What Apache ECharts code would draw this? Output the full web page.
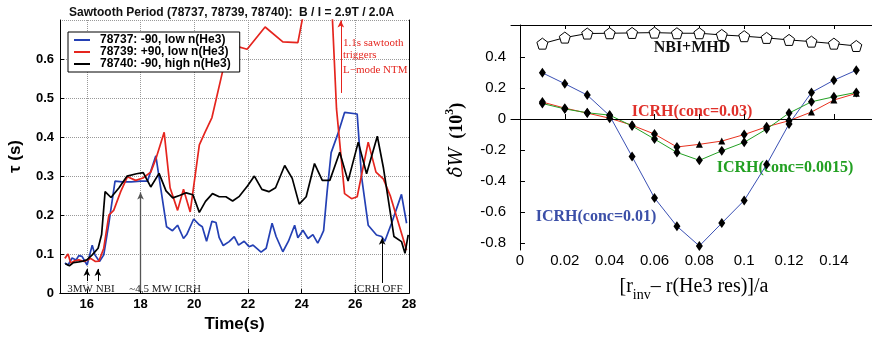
<!DOCTYPE html>
<html>
<head>
<meta charset="utf-8">
<script src="https://cdn.jsdelivr.net/npm/echarts@6/dist/echarts.min.js"></script>
<style>
html,body{margin:0;padding:0;background:#fff}
#chart{width:872px;height:338px}
</style>
</head>
<body>
<div id="chart"></div>
<script>
// left panel: sawtooth period vs time, [t (s), tau (s)]
var shot78737 = [[15.18,0.077],[15.3,0.072],[15.45,0.09],[15.6,0.085],[15.7,0.096],[15.82,0.094],[16.01,0.072],[16.2,0.123],[16.3,0.098],[16.47,0.081],[16.63,0.098],[16.82,0.179],[17.05,0.287],[17.32,0.285],[17.65,0.285],[18.0,0.287],[18.26,0.287],[18.57,0.352],[18.97,0.17],[19.19,0.16],[19.38,0.174],[19.6,0.14],[19.72,0.15],[19.98,0.19],[20.19,0.175],[20.3,0.17],[20.46,0.133],[20.66,0.184],[20.81,0.181],[20.93,0.142],[21.08,0.122],[21.3,0.132],[21.49,0.145],[21.65,0.123],[21.86,0.133],[22.04,0.119],[22.19,0.123],[22.49,0.105],[22.68,0.115],[22.9,0.179],[23.05,0.145],[23.3,0.106],[23.51,0.133],[23.74,0.174],[23.86,0.142],[24.05,0.161],[24.24,0.14],[24.42,0.15],[24.6,0.128],[24.72,0.145],[24.82,0.16],[24.95,0.26],[25.1,0.36],[25.36,0.41],[25.6,0.463],[26.07,0.459],[26.23,0.30],[26.48,0.174],[26.79,0.149],[26.98,0.145],[27.1,0.133],[27.35,0.179],[27.72,0.253],[27.91,0.179]];
var shot78739 = [[15.18,0.089],[15.3,0.10],[15.4,0.077],[15.55,0.083],[15.7,0.085],[15.9,0.081],[16.14,0.089],[16.32,0.081],[16.45,0.082],[16.63,0.115],[16.82,0.2],[17.0,0.212],[17.26,0.26],[17.51,0.298],[17.82,0.289],[18.09,0.295],[18.38,0.31],[18.57,0.344],[18.88,0.412],[19.1,0.27],[19.38,0.212],[19.6,0.266],[19.85,0.208],[20.19,0.38],[20.4,0.412],[20.66,0.45],[21.12,0.587],[21.31,0.646],[21.56,0.633],[21.97,0.625],[22.64,0.682],[23.3,0.644],[23.86,0.642],[24.3,0.8],[25.05,0.85],[25.3,0.472],[25.6,0.255],[25.86,0.242],[26.07,0.247],[26.48,0.387],[26.77,0.31],[27.04,0.293],[27.3,0.25],[27.91,0.11]];
var shot78740 = [[15.2,0.075],[15.35,0.07],[15.5,0.078],[15.7,0.08],[15.85,0.082],[16.0,0.085],[16.2,0.098],[16.42,0.115],[16.55,0.15],[16.68,0.26],[16.9,0.245],[17.2,0.27],[17.5,0.30],[17.85,0.306],[18.1,0.309],[18.38,0.272],[18.69,0.307],[18.95,0.262],[19.2,0.244],[19.45,0.25],[19.7,0.257],[19.95,0.252],[20.19,0.207],[20.42,0.235],[20.68,0.255],[20.93,0.247],[21.18,0.247],[21.43,0.236],[21.68,0.248],[21.99,0.275],[22.24,0.30],[22.52,0.266],[22.78,0.26],[23.03,0.27],[23.37,0.327],[23.65,0.294],[23.91,0.228],[24.17,0.247],[24.48,0.332],[24.77,0.289],[25.05,0.289],[25.42,0.361],[25.73,0.287],[26.11,0.387],[26.42,0.306],[26.82,0.402],[27.05,0.32],[27.44,0.145],[27.72,0.132],[27.85,0.102],[27.97,0.149]];
var shotNames = ['78737: -90, low n(He3)', '78739: +90, low n(He3)', '78740: -90, high n(He3)'];
var timeTicks = [16, 18, 20, 22, 24, 26, 28];

// right panel: delta W vs [r_inv - r(He3 res)]/a
var rValues = [0.01,0.02,0.03,0.04,0.05,0.06,0.07,0.08,0.09,0.10,0.11,0.12,0.13,0.14,0.15];
var nbiMhd = [0.485,0.524,0.55,0.552,0.554,0.556,0.552,0.552,0.541,0.533,0.522,0.509,0.498,0.485,0.47];
var icrh001 = [0.297,0.227,0.154,0.021,-0.242,-0.508,-0.69,-0.817,-0.67,-0.524,-0.293,-0.032,0.171,0.25,0.314];
var icrh003 = [0.109,0.07,0.038,0.005,-0.04,-0.097,-0.18,-0.163,-0.142,-0.10,-0.05,-0.011,0.045,0.122,0.165];
var icrh00015 = [0.10,0.065,0.04,0.025,-0.045,-0.129,-0.215,-0.266,-0.205,-0.15,-0.065,0.038,0.111,0.143,0.171];
var rTicks = [0, 0.02, 0.04, 0.06, 0.08, 0.1, 0.12, 0.14];
var dwTicks = [-0.8, -0.6, -0.4, -0.2, 0, 0.2, 0.4];

var SANS = 'Liberation Sans, Arial, sans-serif';
var SERIF = 'Liberation Serif, Times New Roman, serif';
var BLUE = '#2440b4', RED = '#e5251e';

function pairs(xs, ys) {
  return xs.map(function (x, i) { return [x, ys[i]]; });
}
// the 0.03 curve shows triangles only where it separates from the others
function redSymbol(value, params) {
  var i = params.dataIndex;
  return (i === 7 || i === 8 || i >= 12) ? 'triangle' : 'diamond';
}
function redSize(value, params) {
  var i = params.dataIndex;
  return (i === 7 || i === 8 || i >= 12) ? 7 : [7, 10];
}

var chart = echarts.init(document.getElementById('chart'));

var frameAxis = {
  axisLine: {show: true, lineStyle: {color: '#000', width: 1}},
  axisLabel: {show: false},
  splitLine: {show: false}
};

var option = {
  animation: false,
  backgroundColor: '#fff',
  title: {
    text: 'Sawtooth Period (78737, 78739, 78740):  B / I = 2.9T / 2.0A',
    left: 64, top: 2,
    textStyle: {fontFamily: SANS, fontSize: 12, fontWeight: 'bold', color: '#111'}
  },
  legend: {
    data: shotNames,
    orient: 'vertical',
    left: 68, top: 32,
    backgroundColor: '#fff',
    borderColor: '#000', borderWidth: 1,
    padding: [2, 9, 2, 6],
    itemWidth: 16, itemHeight: 2, itemGap: 0,
    icon: 'rect',
    textStyle: {fontFamily: SANS, fontSize: 12, fontWeight: 'bold', color: '#000', lineHeight: 11, padding: [0, 0, 0, 5]}
  },
  grid: [
    {left: 60, top: 20, right: 463, bottom: 43},
    {left: 511, top: 25, right: -9, bottom: 88}
  ],
  xAxis: [
    {
      gridIndex: 0, type: 'value', min: 15, max: 28, position: 'bottom',
      axisLine: {show: true, lineStyle: {color: '#000', width: 1}},
      axisTick: {show: true, inside: true, length: 4, customValues: timeTicks, lineStyle: {color: '#000'}},
      axisLabel: {customValues: timeTicks, fontFamily: SANS, fontSize: 13, fontWeight: 'bold', color: '#000', margin: 5},
      splitLine: {show: true, lineStyle: {type: 'dotted', color: '#999', width: 1}},
      name: 'Time(s)', nameLocation: 'middle', nameGap: 18,
      nameTextStyle: {fontFamily: SANS, fontSize: 17, fontWeight: 'bold', color: '#000'}
    },
    Object.assign({gridIndex: 0, type: 'value', min: 15, max: 28, position: 'top', axisTick: {show: false}}, frameAxis),
    {
      gridIndex: 1, type: 'value', min: -0.004, max: 0.157, position: 'bottom',
      axisLine: {show: true, lineStyle: {color: '#000', width: 1}},
      axisTick: {show: true, inside: true, length: 5, customValues: rTicks, lineStyle: {color: '#000'}},
      axisLabel: {customValues: rTicks, fontFamily: SANS, fontSize: 15, color: '#000', margin: 3},
      splitLine: {show: false}
    },
    Object.assign({gridIndex: 1, type: 'value', min: -0.004, max: 0.157, position: 'top',
      axisTick: {show: true, inside: true, length: 4, customValues: rTicks, lineStyle: {color: '#000'}}}, frameAxis)
  ],
  yAxis: [
    {
      gridIndex: 0, type: 'value', min: 0, max: 0.7, interval: 0.1,
      axisLine: {show: true, lineStyle: {color: '#000', width: 1}},
      axisTick: {show: true, inside: true, length: 4, lineStyle: {color: '#000'}},
      axisLabel: {fontFamily: SANS, fontSize: 13, fontWeight: 'bold', color: '#000', margin: 6, showMaxLabel: false},
      splitLine: {show: true, lineStyle: {type: 'dotted', color: '#999', width: 1}},
      name: 'τ (s)', nameLocation: 'middle', nameGap: 36, nameRotate: 90,
      nameTextStyle: {fontFamily: SANS, fontSize: 17, fontWeight: 'bold', color: '#000'}
    },
    Object.assign({gridIndex: 0, type: 'value', min: 0, max: 0.7, position: 'right', axisTick: {show: false}}, frameAxis),
    {
      gridIndex: 1, type: 'value', min: -0.843, max: 0.605,
      axisLine: {show: true, lineStyle: {color: '#000', width: 1}},
      axisTick: {show: true, inside: true, length: 5, customValues: dwTicks, lineStyle: {color: '#000'}},
      axisLabel: {customValues: dwTicks, fontFamily: SANS, fontSize: 15, color: '#000', margin: 5},
      splitLine: {show: false}
    }
  ],
  series: [
    {name: shotNames[0], type: 'line', xAxisIndex: 0, yAxisIndex: 0, data: shot78737,
      showSymbol: false, color: BLUE, lineStyle: {color: BLUE, width: 1.7}},
    {name: shotNames[1], type: 'line', xAxisIndex: 0, yAxisIndex: 0, data: shot78739,
      showSymbol: false, color: RED, lineStyle: {color: RED, width: 1.7}, clip: true},
    {name: shotNames[2], type: 'line', xAxisIndex: 0, yAxisIndex: 0, data: shot78740,
      showSymbol: false, color: '#000', lineStyle: {color: '#000', width: 1.7},
      markLine: {
        silent: true, symbol: ['none', 'arrow'], symbolSize: [5, 7], label: {show: false},
        lineStyle: {color: '#000', width: 1, type: 'solid'},
        data: [
          [{coord: [16, 0.031]}, {coord: [16, 0.062]}],
          [{coord: [16.41, 0.031]}, {coord: [16.41, 0.062]}],
          [{coord: [18, 0.006], lineStyle: {color: '#555', width: 1.3}}, {coord: [18, 0.258]}],
          [{coord: [27, 0.026]}, {coord: [27, 0.142]}],
          [{coord: [25.46, 0.513], lineStyle: {color: RED, width: 1}}, {coord: [25.46, 0.699]}]
        ]
      }},
    {name: 'NBI+MHD', type: 'line', xAxisIndex: 2, yAxisIndex: 2, data: pairs(rValues, nbiMhd),
      symbol: 'path://M50,0 L97.6,34.5 L79.4,90.5 L20.6,90.5 L2.4,34.5 Z', symbolSize: 11,
      itemStyle: {color: '#fff', borderColor: '#000', borderWidth: 1},
      lineStyle: {color: '#000', width: 1}, z: 3,
      markLine: {silent: true, symbol: 'none', label: {show: false},
        lineStyle: {color: '#000', width: 1, type: 'solid'}, data: [{yAxis: 0}]}},
    {name: 'ICRH(conc=0.01)', type: 'line', xAxisIndex: 2, yAxisIndex: 2, data: pairs(rValues, icrh001),
      symbol: 'diamond', symbolSize: [7, 10], itemStyle: {color: '#000'},
      lineStyle: {color: '#3a50b4', width: 1}},
    {name: 'ICRH(conc=0.03)', type: 'line', xAxisIndex: 2, yAxisIndex: 2, data: pairs(rValues, icrh003),
      symbol: redSymbol, symbolSize: redSize, itemStyle: {color: '#000'},
      lineStyle: {color: '#e8321f', width: 1}},
    {name: 'ICRH(conc=0.0015)', type: 'line', xAxisIndex: 2, yAxisIndex: 2, data: pairs(rValues, icrh00015),
      symbol: 'diamond', symbolSize: [7, 10], itemStyle: {color: '#000'},
      lineStyle: {color: '#23a023', width: 1}}
  ],
  graphic: [
    {type: 'text', x: 91, y: 289, style: {text: '3MW NBI', font: '11px ' + SERIF, fill: '#222', textAlign: 'center', textVerticalAlign: 'middle', align: 'center', verticalAlign: 'middle'}},
    {type: 'text', x: 165, y: 289, style: {text: '~4,5 MW ICRH', font: '11px ' + SERIF, fill: '#222', textAlign: 'center', textVerticalAlign: 'middle', align: 'center', verticalAlign: 'middle'}},
    {type: 'text', x: 378, y: 289, style: {text: 'ICRH OFF', font: '11px ' + SERIF, fill: '#222', textAlign: 'center', textVerticalAlign: 'middle', align: 'center', verticalAlign: 'middle'}},
    {type: 'text', x: 343, y: 43, style: {text: '1.1s sawtooth', font: '11px ' + SERIF, fill: RED, textVerticalAlign: 'middle', verticalAlign: 'middle'}},
    {type: 'text', x: 343, y: 55, style: {text: 'triggers', font: '11px ' + SERIF, fill: RED, textVerticalAlign: 'middle', verticalAlign: 'middle'}},
    {type: 'text', x: 343, y: 70, style: {text: 'L−mode NTM', font: '11px ' + SERIF, fill: RED, textVerticalAlign: 'middle', verticalAlign: 'middle'}},
    {type: 'text', x: 692, y: 48, style: {text: 'NBI+MHD', font: 'bold 16px ' + SERIF, fill: '#111', textAlign: 'center', textVerticalAlign: 'middle', align: 'center', verticalAlign: 'middle'}},
    {type: 'text', x: 692, y: 112, style: {text: 'ICRH(conc=0.03)', font: 'bold 16px ' + SERIF, fill: '#e0302a', textAlign: 'center', textVerticalAlign: 'middle', align: 'center', verticalAlign: 'middle'}},
    {type: 'text', x: 785, y: 168, style: {text: 'ICRH(conc=0.0015)', font: 'bold 16px ' + SERIF, fill: '#22a022', textAlign: 'center', textVerticalAlign: 'middle', align: 'center', verticalAlign: 'middle'}},
    {type: 'text', x: 596, y: 217, style: {text: 'ICRH(conc=0.01)', font: 'bold 16px ' + SERIF, fill: '#3b4fa8', textAlign: 'center', textVerticalAlign: 'middle', align: 'center', verticalAlign: 'middle'}},
    {type: 'text', x: 694, y: 287, style: {
      text: '{n|[r}{s|inv}{n|– r(He3 res)]/a}',
      textAlign: 'center', textVerticalAlign: 'middle', align: 'center', verticalAlign: 'middle',
      rich: {
        n: {fontFamily: SERIF, fontSize: 20, color: '#222', lineHeight: 30, verticalAlign: 'middle'},
        s: {fontFamily: SERIF, fontSize: 14, color: '#222', lineHeight: 30, verticalAlign: 'bottom'}
      }}},
    {type: 'text', x: 457, y: 140, rotation: Math.PI / 2, style: {
      text: '{i|δ̂W}{b|  (10}{p|3}{b|)}',
      textAlign: 'center', textVerticalAlign: 'middle', align: 'center', verticalAlign: 'middle',
      rich: {
        i: {fontFamily: 'DejaVu Serif, ' + SERIF, fontSize: 18, fontStyle: 'italic', color: '#222', lineHeight: 26, verticalAlign: 'middle'},
        b: {fontFamily: SERIF, fontSize: 18, fontWeight: 'bold', color: '#222', lineHeight: 26, verticalAlign: 'middle'},
        p: {fontFamily: SERIF, fontSize: 12, fontWeight: 'bold', color: '#222', lineHeight: 26, verticalAlign: 'top'}
      }}}
  ]
};

chart.setOption(option);
</script>
</body>
</html>
